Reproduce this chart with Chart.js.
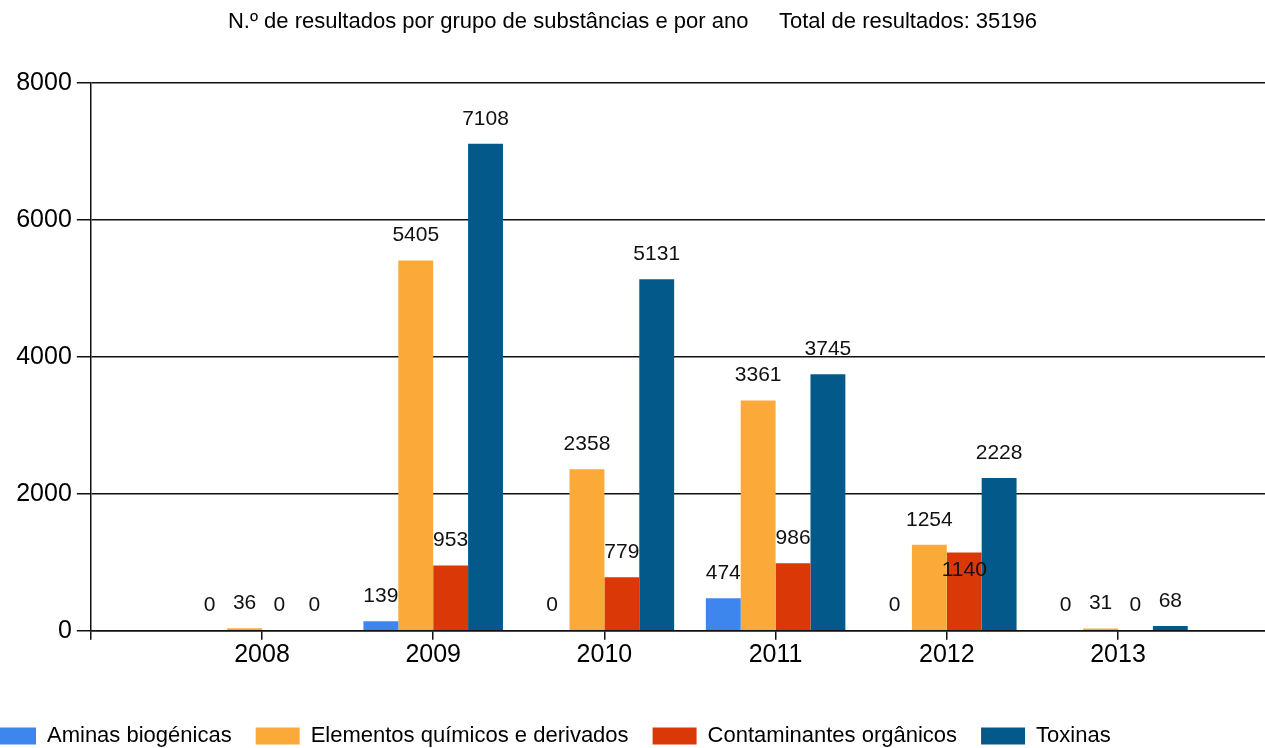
<!DOCTYPE html>
<html>
<head>
<meta charset="utf-8">
<script src="https://cdn.jsdelivr.net/npm/chart.js@4"></script>
<style>
  html, body { margin: 0; padding: 0; background: #fff; overflow: hidden; }
  #wrap { position: relative; width: 1265px; height: 748px; overflow: hidden; }
  #chart { position: absolute; left: -32px; top: 0; }
</style>
</head>
<body>
<div id="wrap">
  <canvas id="chart" width="1329" height="757"></canvas>
</div>
<script>
const years = ["2008", "2009", "2010", "2011", "2012", "2013"];
const aminas = [0, 139, 0, 474, 0, 0];
const elementos = [36, 5405, 2358, 3361, 1254, 31];
const contaminantes = [0, 953, 779, 986, 1140, 0];
const toxinas = [0, 7108, 5131, 3745, 2228, 68];
const yTicks = [0, 2000, 4000, 6000, 8000];

const titleText = "N.º de resultados por grupo de substâncias e por ano     Total de resultados: 35196";
const font = "'Liberation Sans', Arial, sans-serif";

// empty slot before 2008 and after 2013, like the original layout
const labels = [""].concat(years, [""]);
const pad = (arr) => [null].concat(arr, [null]);

// draws the value above every bar, moves a label into the bar if it would hit another one
const valueLabels = {
  id: "valueLabels",
  afterDatasetsDraw(chart) {
    const ctx = chart.ctx;
    ctx.save();
    ctx.font = "21px " + font;
    ctx.fillStyle = "#111";
    ctx.textAlign = "center";
    ctx.textBaseline = "middle";
    const placed = [];
    chart.data.datasets.forEach((ds, di) => {
      const meta = chart.getDatasetMeta(di);
      meta.data.forEach((bar, i) => {
        const v = ds.data[i];
        if (v === null || v === undefined) return;
        const text = String(v);
        const w = ctx.measureText(text).width;
        let y = bar.y - 25;
        const hits = placed.some(r =>
          bar.x - w / 2 < r.x2 && bar.x + w / 2 > r.x1 && y - 11 < r.y2 && y + 11 > r.y1);
        if (hits) y = bar.y + 18;
        placed.push({ x1: bar.x - w / 2, x2: bar.x + w / 2, y1: y - 11, y2: y + 11 });
        ctx.fillText(text, bar.x, y);
      });
    });
    ctx.restore();
  }
};

new Chart(document.getElementById("chart").getContext("2d"), {
  type: "bar",
  data: {
    labels: labels,
    datasets: [
      { label: "Aminas biogénicas", data: pad(aminas), backgroundColor: "#3D86EE" },
      { label: "Elementos químicos e derivados", data: pad(elementos), backgroundColor: "#FBAA3A" },
      { label: "Contaminantes orgânicos", data: pad(contaminantes), backgroundColor: "#DA3806" },
      { label: "Toxinas", data: pad(toxinas), backgroundColor: "#035A8A" },
    ],
  },
  options: {
    responsive: false,
    animation: false,
    devicePixelRatio: 1,
    categoryPercentage: 0.815,
    barPercentage: 1,
    layout: { padding: 0 },
    plugins: {
      title: {
        display: true,
        text: titleText,
        color: "#000",
        font: { family: font, size: 22, weight: "normal", lineHeight: 1.2 },
        padding: { top: 9, bottom: 47.3 },
      },
      legend: {
        position: "bottom",
        align: "start",
        labels: {
          color: "#000",
          font: { family: font, size: 22 },
          boxWidth: 44,
          boxHeight: 17,
          padding: 24,
        },
      },
      tooltip: { enabled: false },
    },
    scales: {
      x: {
        offset: false,
        afterFit: (s) => { s.height = 70.3; },
        grid: {
          offset: false,
          drawOnChartArea: false,
          drawTicks: true,
          tickLength: 9,
          color: "#111",
          lineWidth: 1.5,
        },
        border: { color: "#111", width: 1.5 },
        ticks: {
          autoSkip: false,
          maxRotation: 0,
          padding: 0,
          color: "#000",
          font: { family: font, size: 25 },
        },
      },
      y: {
        min: 0,
        max: 8000,
        afterFit: (s) => { s.width = 122.8; },
        afterBuildTicks: (s) => { s.ticks = yTicks.map(v => ({ value: v })); },
        grid: {
          tickLength: 14,
          color: "#111",
          lineWidth: 1.5,
        },
        border: { color: "#111", width: 1.5 },
        ticks: {
          padding: 5,
          color: "#000",
          font: { family: font, size: 25 },
          callback: (v) => String(v),
        },
      },
      // empty strip on the right so the plot ends where the original one does
      yRight: {
        type: "linear",
        position: "right",
        min: 0,
        max: 8000,
        afterFit: (s) => { s.width = 7.8; },
        grid: { display: false },
        border: { display: false },
        ticks: { display: false },
      },
    },
  },
  plugins: [valueLabels],
});
</script>
</body>
</html>
